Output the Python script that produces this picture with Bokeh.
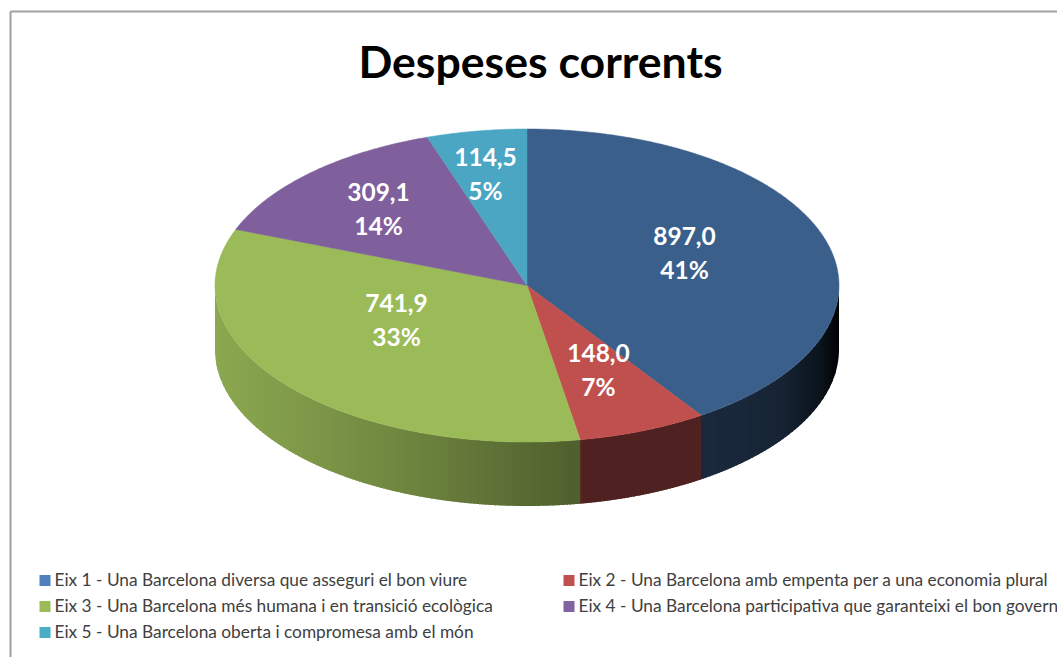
import numpy as np
from bokeh.plotting import figure
from bokeh.models import Range1d
from bokeh.core.properties import value
from bokeh.embed import file_html
from bokeh.resources import INLINE

TITLE = "Despeses corrents"
categories = [
    "Eix 1 - Una Barcelona diversa que asseguri el bon viure",
    "Eix 2 - Una Barcelona amb empenta per a una economia plural",
    "Eix 3 - Una Barcelona més humana i en transició ecològica",
    "Eix 4 - Una Barcelona participativa que garanteixi el bon govern",
    "Eix 5 - Una Barcelona oberta i compromesa amb el món",
]
values = [897.0, 148.0, 741.9, 309.1, 114.5]
value_labels = ["897,0", "148,0", "741,9", "309,1", "114,5"]
pct_labels = ["41%", "7%", "33%", "14%", "5%"]

# styles
top_colors = ["#3b5f8b", "#c0504d", "#9bbb59", "#7f5f9c", "#4aa6c3"]
legend_colors = ["#4f81bd", "#c0504d", "#9bbb59", "#8064a2", "#4bacc6"]

# layout (pixel frame of the picture)
W, H = 1057, 657
CX, CY, RX, RY, DEPTH = 526.5, 285, 312, 156.5, 64
label_pos = [(684, 235), (598, 352), (396, 302), (378, 191), (485, 156)]
LINE_GAP = 34
legend_pos = [(38, 580), (562, 580), (38, 606), (562, 606), (38, 632)]
shade_x = [215, 400, 579, 582, 700, 705, 780, 820, 838]
shade_f = [0.90, 0.72, 0.51, 0.41, 0.41, 0.44, 0.38, 0.20, 0.03]


def hex2rgb(c):
    return np.array([int(c[i:i + 2], 16) for i in (1, 3, 5)], dtype=float)


def rgb2hex(a):
    return "#%02x%02x%02x" % tuple(int(round(v)) for v in np.clip(a, 0, 255))


def ell(deg):
    t = np.radians(deg)
    return CX + RX * np.sin(t), CY - RY * np.cos(t)


def ang_of_x(x):
    return 180 - np.degrees(np.arcsin(np.clip((x - CX) / RX, -1, 1)))


p = figure(width=W, height=H, x_range=Range1d(0, W), y_range=Range1d(H, 0),
           output_backend="svg", toolbar_location=None, min_border=0,
           outline_line_color=None, background_fill_color="white")
p.axis.visible = False
p.grid.visible = False

# frame of the pasted picture
p.line([10, 10], [H, 11], line_color="#a0a0a0", line_width=2)
p.line([10, W], [11, 11], line_color="#a0a0a0", line_width=2)

edges = np.concatenate([[0], np.cumsum(values)]) / sum(values) * 360

# side wall: narrow strips, shaded along the x direction, each overlapping the next
sx, sy, sc = [], [], []
for i in range(len(values)):
    a0, a1 = max(edges[i], 90), min(edges[i + 1], 270)
    if a1 <= a0:
        continue
    x_start, x_end = ell(a0)[0], ell(a1)[0]
    xs_grid = np.linspace(x_start, x_end, max(2, int((x_start - x_end) / 3)) + 1)
    base = hex2rgb(top_colors[i])
    for x0, x1 in zip(xs_grid[:-1], xs_grid[1:]):
        g0, g1 = ang_of_x(x0), min(ang_of_x(x1 - 1.5), 270)
        arc = np.linspace(g0, g1, 8)
        ax, ay = ell(arc)
        sx.append(list(ax) + list(ax[::-1]))
        sy.append(list(ay) + list((ay + DEPTH)[::-1]))
        sc.append(rgb2hex(base * np.interp((x0 + x1) / 2, shade_x, shade_f)))
p.patches(sx, sy, fill_color=sc, line_color=None)

# top face
tx, ty = [], []
for i in range(len(values)):
    arc = np.linspace(edges[i], edges[i + 1], max(3, int(edges[i + 1] - edges[i]) * 2))
    ax, ay = ell(arc)
    tx.append([CX] + list(ax))
    ty.append([CY] + list(ay))
p.patches(tx, ty, fill_color=top_colors, line_color=top_colors, line_width=0.5)

# data labels
for (lx, ly), v, q in zip(label_pos, value_labels, pct_labels):
    p.text([lx, lx], [ly, ly + LINE_GAP], text=[v, q], text_color="white",
           text_font=value("Lato"), text_font_style="bold", text_font_size="24.5px",
           text_align="center", text_baseline="middle")

# title
p.text([540], [60], text=[TITLE], text_color="black", text_font=value("Lato"),
       text_font_style="bold", text_font_size="44.6px", text_align="center",
       text_baseline="middle")

# legend
for (lx, ly), c, name in zip(legend_pos, legend_colors, categories):
    p.rect([lx + 6.5], [ly], width=11, height=11, width_units="screen", height_units="screen",
           fill_color=c, line_color=None)
    p.text([lx + 16], [ly - 1], text=[name], text_color="#404040", text_font=value("Lato"),
           text_font_size="17.3px", text_align="left", text_baseline="middle")

open("out.html", "w").write(file_html(p, INLINE))
